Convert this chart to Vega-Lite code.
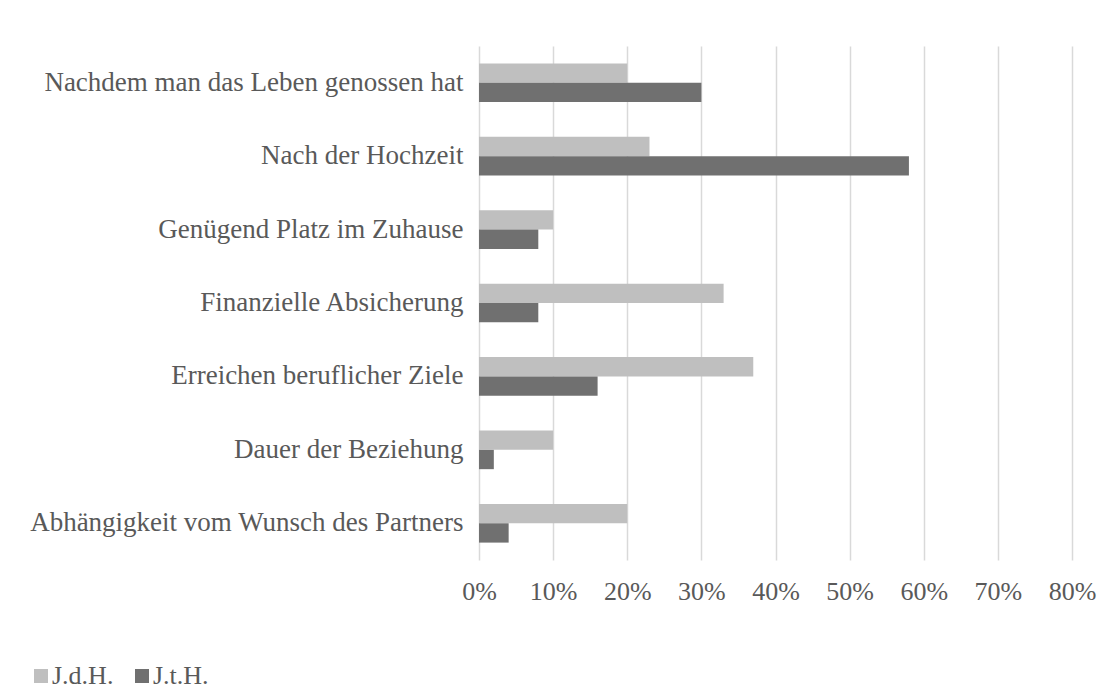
{
  "$schema": "https://vega.github.io/schema/vega-lite/v6.json",
  "autosize": {"type": "none"},
  "width": 593,
  "height": 514,
  "padding": {"left": 479, "top": 46, "right": 47, "bottom": 133},
  "background": "white",
  "config": {
    "view": {"stroke": null},
    "font": "Liberation Serif",
    "axis": {"labelFont": "Liberation Serif", "labelFontSize": 26, "labelColor": "#595959"},
    "legend": {"labelFont": "Liberation Serif", "labelFontSize": 26, "labelColor": "#595959"}
  },
  "data": {
    "values": [
      {"kategorie": "Nachdem man das Leben genossen hat", "gruppe": "J.d.H.", "wert": 0.20},
      {"kategorie": "Nachdem man das Leben genossen hat", "gruppe": "J.t.H.", "wert": 0.30},
      {"kategorie": "Nach der Hochzeit", "gruppe": "J.d.H.", "wert": 0.23},
      {"kategorie": "Nach der Hochzeit", "gruppe": "J.t.H.", "wert": 0.58},
      {"kategorie": "Genügend Platz im Zuhause", "gruppe": "J.d.H.", "wert": 0.10},
      {"kategorie": "Genügend Platz im Zuhause", "gruppe": "J.t.H.", "wert": 0.08},
      {"kategorie": "Finanzielle Absicherung", "gruppe": "J.d.H.", "wert": 0.33},
      {"kategorie": "Finanzielle Absicherung", "gruppe": "J.t.H.", "wert": 0.08},
      {"kategorie": "Erreichen beruflicher Ziele", "gruppe": "J.d.H.", "wert": 0.37},
      {"kategorie": "Erreichen beruflicher Ziele", "gruppe": "J.t.H.", "wert": 0.16},
      {"kategorie": "Dauer der Beziehung", "gruppe": "J.d.H.", "wert": 0.10},
      {"kategorie": "Dauer der Beziehung", "gruppe": "J.t.H.", "wert": 0.02},
      {"kategorie": "Abhängigkeit vom Wunsch des Partners", "gruppe": "J.d.H.", "wert": 0.20},
      {"kategorie": "Abhängigkeit vom Wunsch des Partners", "gruppe": "J.t.H.", "wert": 0.04}
    ]
  },
  "mark": {"type": "bar"},
  "encoding": {
    "y": {
      "field": "kategorie",
      "type": "nominal",
      "sort": null,
      "title": null,
      "scale": {"paddingInner": 0.474, "paddingOuter": 0.237},
      "axis": {"ticks": false, "domain": false, "labelPadding": 16, "labelLimit": 0, "labelFontSize": 27}
    },
    "yOffset": {
      "field": "gruppe",
      "type": "nominal",
      "sort": ["J.d.H.", "J.t.H."],
      "scale": {"paddingInner": 0, "paddingOuter": 0}
    },
    "x": {
      "field": "wert",
      "type": "quantitative",
      "title": null,
      "scale": {"domain": [0, 0.8], "nice": false},
      "axis": {
        "format": ".0%",
        "values": [0, 0.1, 0.2, 0.3, 0.4, 0.5, 0.6, 0.7, 0.8],
        "ticks": false,
        "domain": false,
        "labelPadding": 18,
        "grid": true,
        "gridColor": "#d9d9d9",
        "gridWidth": 1.5,
        "labelFlush": false
      }
    },
    "color": {
      "field": "gruppe",
      "type": "nominal",
      "sort": ["J.d.H.", "J.t.H."],
      "scale": {"domain": ["J.d.H.", "J.t.H."], "range": ["#bfbfbf", "#707070"]},
      "legend": {
        "title": null,
        "orient": "none",
        "direction": "horizontal",
        "legendX": -451,
        "legendY": 617,
        "symbolType": "square",
        "symbolSize": 196,
        "symbolStrokeWidth": 0,
        "labelOffset": -2,
        "columnPadding": 15
      }
    }
  }
}
